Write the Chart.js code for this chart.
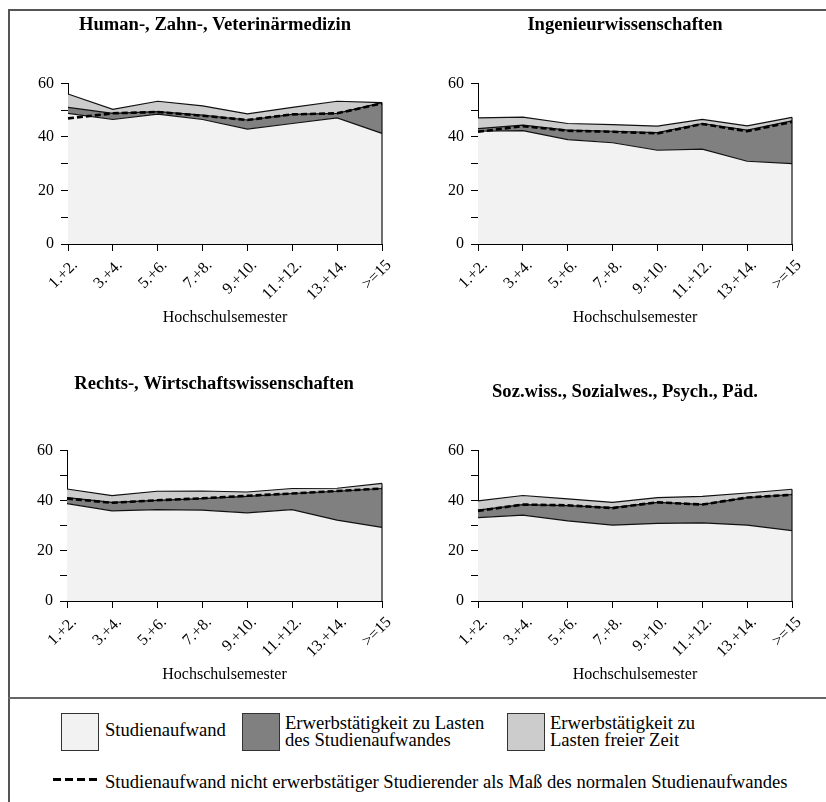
<!DOCTYPE html>
<html>
<head>
<meta charset="utf-8">
<script src="https://cdn.jsdelivr.net/npm/chart.js@4"></script>
<style>
  body { margin: 0; background: #fff; width: 826px; height: 802px; overflow: hidden; position: relative;
         font-family: "Liberation Serif", "Times New Roman", serif; color: #000; }
  .frame { position: absolute; left: 8px; top: 9px; width: 840px; height: 820px;
           border-left: 2px solid #555; border-top: 2px solid #555; }
  .sep { position: absolute; left: 8px; top: 697px; width: 840px; height: 2px; background: #666; }
  .panel { position: absolute; }
  .box { position: absolute; width: 38px; height: 38px; box-sizing: border-box; border: 1px solid #333; top: 713px; }
  .txt { position: absolute; font-size: 18.6px; line-height: 17px; white-space: nowrap; }
  .dash { position: absolute; left: 53px; top: 778px; width: 44px; height: 3px;
          background: repeating-linear-gradient(to right, #000 0 8px, transparent 8px 12px); }
</style>
</head>
<body>
<div class="frame"></div>
<div class="sep"></div>
<div class="panel" style="left:15px;top:0px"><canvas id="c1" width="400" height="335"></canvas></div>
<div class="panel" style="left:425px;top:0px"><canvas id="c2" width="400" height="335"></canvas></div>
<div class="panel" style="left:14px;top:360px"><canvas id="c3" width="400" height="332"></canvas></div>
<div class="panel" style="left:425px;top:360px"><canvas id="c4" width="400" height="332"></canvas></div>

<div id="legend"></div>

<script>
// Kategorien (Hochschulsemester)
var categories = ["1.+2.", "3.+4.", "5.+6.", "7.+8.", "9.+10.", "11.+12.", "13.+14.", ">=15"];
var yTicks = [0, 20, 40, 60];

var seriesNames = [
  "Studienaufwand",
  "Erwerbstätigkeit zu Lasten\ndes Studienaufwandes",
  "Erwerbstätigkeit zu\nLasten freier Zeit",
  "Studienaufwand nicht erwerbstätiger Studierender als Maß des normalen Studienaufwandes"
];
var xTitle = "Hochschulsemester";

// Human-, Zahn-, Veterinärmedizin
var medTitle = "Human-, Zahn-, Veterinärmedizin";
var medStudium   = [48.8, 46.5, 48.5, 46.5, 42.9, 45.0, 47.1, 41.3];
var medLastStud  = [2.2, 2.3, 0.9, 1.6, 3.4, 3.4, 1.7, 11.5];
var medLastFrei  = [5.0, 1.5, 3.9, 3.5, 2.3, 2.6, 4.5, 0.0];
var medNormal    = [46.9, 48.8, 49.3, 47.9, 46.3, 48.4, 48.8, 52.5];

// Ingenieurwissenschaften
var ingTitle = "Ingenieurwissenschaften";
var ingStudium   = [42.1, 42.3, 39.0, 37.8, 35.0, 35.4, 30.9, 30.0];
var ingLastStud  = [1.0, 2.1, 3.5, 4.3, 6.6, 9.6, 11.6, 16.0];
var ingLastFrei  = [4.0, 3.0, 2.5, 2.5, 2.4, 1.5, 1.6, 1.3];
var ingNormal    = [41.9, 44.0, 42.3, 41.9, 41.3, 44.8, 42.1, 45.6];

// Rechts-, Wirtschaftswissenschaften
var rewiTitle = "Rechts-, Wirtschaftswissenschaften";
var rewiStudium  = [38.8, 35.9, 36.4, 36.2, 35.1, 36.4, 32.2, 29.3];
var rewiLastStud = [2.4, 3.4, 3.7, 4.6, 6.6, 6.4, 11.5, 15.5];
var rewiLastFrei = [3.4, 2.7, 3.6, 3.0, 1.7, 2.0, 1.2, 2.0];
var rewiNormal   = [40.8, 39.1, 40.1, 40.9, 41.9, 42.8, 43.8, 44.8];

// Soz.wiss., Sozialwes., Psych., Päd.
var sozTitle = "Soz.wiss., Sozialwes., Psych., Päd.";
var sozStudium   = [33.2, 34.2, 31.9, 30.2, 30.9, 31.1, 30.2, 28.0];
var sozLastStud  = [3.0, 4.2, 6.1, 7.0, 8.4, 7.4, 11.0, 14.4];
var sozLastFrei  = [3.7, 3.6, 2.7, 2.1, 1.9, 3.2, 1.8, 2.1];
var sozNormal    = [35.9, 38.4, 38.1, 37.0, 39.3, 38.4, 41.2, 42.3];

var colors = ["#f2f2f2", "#808080", "#cccccc"];
var fontFamily = "'Liberation Serif', 'Times New Roman', serif";

// rechte Kante der Flaeche als senkrechte Linie
var edgePlugin = {
  id: "edge",
  afterDatasetsDraw: function (chart) {
    var meta = chart.getDatasetMeta(2);
    var last = meta.data[meta.data.length - 1];
    var ctx = chart.ctx;
    ctx.save();
    ctx.strokeStyle = "#111";
    ctx.lineWidth = 1.2;
    ctx.beginPath();
    ctx.moveTo(last.x, last.y);
    ctx.lineTo(last.x, chart.chartArea.bottom);
    ctx.stroke();
    ctx.restore();
  }
};

function makeChart(id, title, studium, lastStud, lastFrei, normal, titlePad, rightWidth) {
  var ctx = document.getElementById(id).getContext("2d");
  return new Chart(ctx, {
    type: "line",
    data: {
      labels: categories,
      datasets: [{
        label: seriesNames[0],
        data: studium,
        fill: "origin",
        backgroundColor: colors[0],
        borderColor: "#111",
        borderWidth: 1.2,
        pointRadius: 0,
        tension: 0
      }, {
        label: seriesNames[1],
        data: lastStud,
        fill: "-1",
        backgroundColor: colors[1],
        borderColor: "#111",
        borderWidth: 1.2,
        pointRadius: 0,
        tension: 0
      }, {
        label: seriesNames[2],
        data: lastFrei,
        fill: "-1",
        backgroundColor: colors[2],
        borderColor: "#111",
        borderWidth: 1.2,
        pointRadius: 0,
        tension: 0
      }, {
        label: seriesNames[3],
        data: normal,
        stack: "normal",
        order: -1,
        fill: false,
        borderColor: "#000",
        borderWidth: 2.6,
        borderDash: [6, 3],
        pointRadius: 0,
        tension: 0
      }]
    },
    options: {
      responsive: false,
      animation: false,
      layout: { padding: 0 },
      scales: {
        x: {
          offset: false,
          grid: { drawOnChartArea: false, drawTicks: true, tickLength: 7, color: "#000", tickColor: "#000" },
          border: { color: "#000", width: 1 },
          ticks: { autoSkip: false, minRotation: 45, maxRotation: 45, padding: 5, labelOffset: 7, color: "#000",
                   font: { family: fontFamily, size: 16 } },
          title: { display: true, text: xTitle, color: "#000", padding: { top: 0, bottom: 8 },
                   font: { family: fontFamily, size: 16 } },
          afterFit: function (scale) { scale.height = 91; }
        },
        y: {
          stacked: true,
          min: 0,
          max: 60,
          grid: { drawOnChartArea: false, drawTicks: true, tickLength: 7, color: "#000", tickColor: "#000" },
          border: { color: "#000", width: 1 },
          ticks: {
            stepSize: 10,
            padding: 7,
            color: "#000",
            font: { family: fontFamily, size: 16 },
            callback: function (v) { return yTicks.indexOf(v) >= 0 ? String(v) : ""; }
          },
          afterFit: function (scale) { scale.width = 53; }
        },
        // leere rechte Achse als Abstand, damit der Titel wie im Original sitzt
        yRight: {
          type: "linear",
          position: "right",
          min: 0,
          max: 60,
          grid: { display: false },
          border: { display: false },
          ticks: { display: false },
          afterFit: function (scale) { scale.width = rightWidth; }
        }
      },
      plugins: {
        legend: { display: false },
        tooltip: { enabled: false },
        filler: { drawTime: "beforeDatasetsDraw" },
        title: {
          display: true,
          text: title,
          color: "#000",
          font: { family: fontFamily, size: 18.6, weight: "bold" },
          padding: titlePad
        }
      }
    },
    plugins: [edgePlugin]
  });
}

makeChart("c1", medTitle, medStudium, medLastStud, medLastFrei, medNormal, { top: 14, bottom: 47 }, 33);
makeChart("c2", ingTitle, ingStudium, ingLastStud, ingLastFrei, ingNormal, { top: 14, bottom: 47 }, 33);
makeChart("c3", rewiTitle, rewiStudium, rewiLastStud, rewiLastFrei, rewiNormal, { top: 13, bottom: 55 }, 32);
makeChart("c4", sozTitle, sozStudium, sozLastStud, sozLastFrei, sozNormal, { top: 21, bottom: 47 }, 33);

// gemeinsame Legende
var legend = document.getElementById("legend");
var items = [
  { left: 61, text: 105, color: colors[0], label: seriesNames[0], top: 721 },
  { left: 242, text: 285, color: colors[1], label: seriesNames[1], top: 714 },
  { left: 507, text: 550, color: colors[2], label: seriesNames[2], top: 714 }
];
items.forEach(function (it) {
  var b = document.createElement("div");
  b.className = "box";
  b.style.left = it.left + "px";
  b.style.background = it.color;
  legend.appendChild(b);
  var t = document.createElement("div");
  t.className = "txt";
  t.style.left = it.text + "px";
  t.style.top = it.top + "px";
  t.innerHTML = it.label.split("\n").join("<br>");
  legend.appendChild(t);
});
var d = document.createElement("div");
d.className = "dash";
legend.appendChild(d);
var t4 = document.createElement("div");
t4.className = "txt";
t4.style.left = "105px";
t4.style.top = "773px";
t4.textContent = seriesNames[3];
legend.appendChild(t4);
</script>
</body>
</html>
